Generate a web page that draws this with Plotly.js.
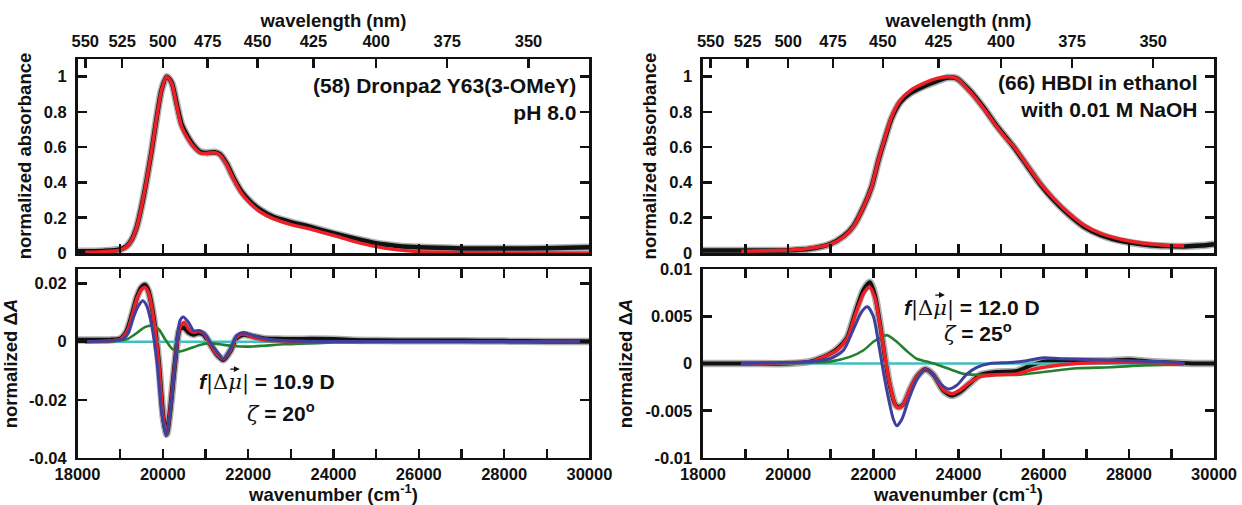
<!DOCTYPE html>
<html><head><meta charset="utf-8">
<script src="https://cdn.plot.ly/plotly-3.0.1.min.js"></script>
<style>html,body{margin:0;padding:0;background:#fff}#chart{width:1242px;height:505px}</style>
</head><body><div id="chart"></div>
<script>
// ---------- tick labels ----------
const wlTicks = [550, 525, 500, 475, 450, 425, 400, 375, 350];
const wnTicks = [18000,19000,20000,21000,22000,23000,24000,25000,26000,27000,28000,29000,30000];
const wnTickText = ['18000','','20000','','22000','','24000','','26000','','28000','','30000'];
const absTicks = [0, 0.2, 0.4, 0.6, 0.8, 1];
const absTickText = ['0','0.2','0.4','0.6','0.8','1'];
const dTicksL = [-0.04, -0.02, 0, 0.02];
const dTickTextL = ['-0.04','-0.02','0','0.02'];
const dTicksR = [-0.01, -0.005, 0, 0.005, 0.01];
const dTickTextR = ['-0.01','-0.005','0','0.005','0.01'];

// ---------- (58) Dronpa2 Y63(3-OMeY): absorbance ----------
const wnTLdat = [18000,18600,19000,19150,19270,19390,19500,19620,19740,19860,19970,20090,20210,20330,20440,20560,20720,20870,21030,21220,21340,21500,21650,21850,22050,22280,22590,22980,23500,24000,24500,25000,25500,26000,27000,28000,29000,30000];
const absTLdat = [0.01,0.012,0.02,0.038,0.076,0.15,0.262,0.414,0.584,0.775,0.926,1.0,0.965,0.84,0.73,0.67,0.61,0.575,0.568,0.572,0.56,0.505,0.43,0.347,0.292,0.246,0.205,0.177,0.145,0.112,0.082,0.055,0.04,0.032,0.026,0.025,0.027,0.032];
const wnTLfit = [18180,18600,19000,19150,19270,19390,19500,19620,19740,19860,19970,20090,20210,20330,20440,20560,20720,20870,21030,21220,21340,21500,21650,21850,22050,22280,22590,22980,23500,24000,24500,25000,25500,26000,26500,27000,28000,30000];
const absTLfit = [0.005,0.008,0.017,0.036,0.074,0.149,0.262,0.414,0.584,0.773,0.924,1.0,0.962,0.83,0.716,0.659,0.603,0.569,0.565,0.569,0.556,0.499,0.423,0.338,0.282,0.234,0.195,0.163,0.133,0.1,0.065,0.036,0.018,0.008,0.004,0.002,0.001,0.001];

// ---------- (58): electroabsorption ----------
const wnBLdat = [18000,18760,19000,19150,19270,19390,19500,19580,19660,19780,19900,20010,20090,20170,20290,20400,20500,20600,20720,20830,20950,21110,21260,21420,21580,21730,21890,22120,22360,22670,23000,23500,24000,24500,25000,26000,27000,28000,29000,30000];
const dBLdat = [0.0006,0.0006,0.001,0.0035,0.0088,0.0152,0.0187,0.0195,0.0175,0.0086,-0.0066,-0.026,-0.0318,-0.0238,-0.0066,0.0045,0.0048,0.0033,0.0025,0.003,0.0026,-0.0008,-0.0042,-0.0062,-0.0032,0.0013,0.0025,0.0018,0.0011,0.0009,0.0008,0.0009,0.0008,0.0005,0.0004,0.0003,0.0003,0.0002,0.0001,0.0001];
const wnBLfit = [18180,18760,19000,19150,19270,19390,19500,19580,19660,19780,19900,20010,20090,20170,20290,20400,20500,20600,20720,20830,20950,21110,21260,21420,21580,21730,21890,22120,22360,22670,23000,24000,30000];
const dBLfit = [0,0.0003,0.0008,0.0032,0.0084,0.0147,0.018,0.0187,0.017,0.0084,-0.0066,-0.026,-0.0318,-0.0238,-0.0066,0.0049,0.0067,0.0044,0.0032,0.0036,0.0029,-0.0008,-0.0042,-0.006,-0.0031,0.0015,0.0027,0.0015,0.0006,0.0003,0.0001,0,0];
const wnBLblue = [18180,18760,19075,19190,19310,19430,19530,19620,19740,19860,19970,20075,20170,20290,20400,20480,20600,20720,20870,20990,21150,21300,21420,21580,21730,21890,22120,22440,22830,23500,30000];
const dBLblue = [0,0.0003,0.001,0.003,0.0084,0.0124,0.0141,0.0124,0.0055,-0.0066,-0.024,-0.0324,-0.025,-0.0066,0.0072,0.0085,0.0067,0.0038,0.0038,0.0026,-0.0011,-0.004,-0.006,-0.0026,0.0021,0.0032,0.0021,0.0009,0.0003,0.0001,0];
const wnBLgreen = [18180,18760,19150,19390,19580,19740,19900,20050,20210,20360,20560,20870,21110,21340,21650,21970,22360,22830,23220,24000,25000,30000];
const dBLgreen = [0,0,0.0008,0.003,0.005,0.0055,0.0044,0.0009,-0.0023,-0.0034,-0.0027,-0.0011,-0.0005,-0.0009,-0.0015,-0.0017,-0.0014,-0.0009,-0.0007,-0.0003,-0.0001,0];
const wnBLcyan = [18180, 30000];
const dBLcyan = [0, 0];

// ---------- (66) HBDI in ethanol with NaOH: absorbance ----------
const wnTRdat = [18000,19000,20040,20510,20980,21300,21530,21770,21960,22120,22280,22430,22630,22860,23180,23490,23760,23960,24270,24590,24900,25300,25610,25920,26230,26550,26940,27330,27720,28110,28500,28900,29300,29700,30000];
const absTRdat = [0.014,0.014,0.016,0.024,0.05,0.095,0.152,0.262,0.376,0.525,0.655,0.765,0.855,0.905,0.945,0.975,0.995,0.99,0.92,0.825,0.72,0.6,0.495,0.39,0.302,0.226,0.15,0.103,0.074,0.056,0.044,0.039,0.037,0.042,0.05];
const wnTRfit = [18900,19500,20040,20510,20980,21300,21530,21770,21960,22120,22280,22430,22630,22860,23180,23490,23760,23960,24270,24590,24900,25100,25300,25610,25920,26230,26550,26940,27330,27720,28110,28500,28900,29300];
const absTRfit = [0.01,0.013,0.017,0.027,0.049,0.092,0.149,0.262,0.376,0.527,0.659,0.773,0.867,0.92,0.962,0.99,1.0,0.99,0.915,0.82,0.716,0.655,0.603,0.499,0.395,0.31,0.234,0.159,0.112,0.083,0.064,0.051,0.044,0.04];

// ---------- (66): electroabsorption ----------
const wnBRdat = [18000,19000,20000,20510,20830,21140,21380,21570,21770,21920,22040,22160,22280,22390,22510,22600,22710,22860,23020,23220,23410,23650,23850,24040,24270,24510,24900,25370,25700,26000,26800,27500,28000,28500,29000,29500,30000];
const dBRdat = [0,0,0,0.0002,0.0007,0.0015,0.0027,0.0053,0.0078,0.0086,0.0072,0.0041,0.0004,-0.0024,-0.0043,-0.0046,-0.0043,-0.0028,-0.0014,-0.0006,-0.0012,-0.0029,-0.0034,-0.003,-0.0021,-0.0012,-0.0009,-0.0008,-0.0002,0.0002,0.0003,0.0003,0.0004,0.0002,0.0001,0,0];
const wnBRfit = [18900,19500,20000,20510,20830,21140,21380,21570,21770,21910,22040,22160,22280,22390,22510,22590,22710,22860,23020,23220,23410,23650,23840,24040,24270,24510,24900,25370,25680,26000,26780,27500,28500,29300];
const dBRfit = [0,0.00003,0.0001,0.00016,0.0007,0.0014,0.0026,0.0051,0.0074,0.0081,0.0069,0.004,0.0005,-0.0023,-0.0043,-0.0047,-0.0043,-0.0027,-0.0014,-0.00065,-0.0012,-0.0028,-0.0032,-0.0028,-0.002,-0.0014,-0.0012,-0.0011,-0.0007,-0.0004,0,0.0001,0.0001,0];
const wnBRblue = [18900,20000,20510,20980,21300,21530,21730,21860,22000,22120,22240,22360,22470,22550,22670,22830,23020,23220,23410,23610,23760,23960,24200,24430,24740,25210,25600,26000,26390,27170,27950,28740,29300];
const dBRblue = [0,0.0001,0.0002,0.0005,0.0014,0.0036,0.0055,0.006,0.005,0.0022,-0.001,-0.0038,-0.0059,-0.0066,-0.0059,-0.0038,-0.0017,-0.0007,-0.0012,-0.0023,-0.0027,-0.0023,-0.0011,-0.0004,0,0.0001,0.0003,0.0006,0.0005,0.0004,0.0003,0.0002,0];
const wnBRgreen = [18900,20000,20510,20980,21450,21770,22000,22200,22320,22550,22790,23020,23260,23490,23800,24120,24430,24900,25370,26000,26780,27560,28350,29300];
const dBRgreen = [0,0.00005,0.0001,0.0002,0.0007,0.0014,0.0023,0.0028,0.003,0.0023,0.0013,0.0005,0.0002,-0.0001,-0.0006,-0.0011,-0.0012,-0.0012,-0.0012,-0.0009,-0.0005,-0.0004,-0.0002,-0.0001];
const wnBRcyan = [18900, 29300];
const dBRcyan = [0, 0];

// ---------- styling ----------
const FONT = 'Liberation Sans, Arial, sans-serif';
const INK = '#111111';
const C_RED = '#ee2026', C_BLUE = '#3f3f9e', C_GREEN = '#23802f', C_CYAN = '#3fbfbf';
const HALO = 'rgba(95,95,95,0.5)';

function ln(x, y, xa, ya, color, width) {
  return {type:'scatter', mode:'lines', x:x, y:y, xaxis:xa, yaxis:ya,
    line:{color:color, width:width, shape:'spline', smoothing:0.7},
    hoverinfo:'skip', showlegend:false};
}

const traces = [
  ln(wnTLdat, absTLdat, 'x', 'y', HALO, 7.5),
  ln(wnTLdat, absTLdat, 'x', 'y', INK, 4.5),
  ln(wnTLfit, absTLfit, 'x5', 'y', C_RED, 3.4),

  ln(wnBLdat, dBLdat, 'x2', 'y2', HALO, 7.5),
  ln(wnBLdat, dBLdat, 'x2', 'y2', INK, 4.5),
  ln(wnBLcyan, dBLcyan, 'x2', 'y2', C_CYAN, 2.6),
  ln(wnBLgreen, dBLgreen, 'x2', 'y2', C_GREEN, 2.6),
  ln(wnBLfit, dBLfit, 'x2', 'y2', C_RED, 3.4),
  ln(wnBLblue, dBLblue, 'x2', 'y2', C_BLUE, 3),

  ln(wnTRdat, absTRdat, 'x3', 'y3', HALO, 7.5),
  ln(wnTRdat, absTRdat, 'x3', 'y3', INK, 4.5),
  ln(wnTRfit, absTRfit, 'x6', 'y3', C_RED, 3.4),

  ln(wnBRdat, dBRdat, 'x4', 'y4', HALO, 7.5),
  ln(wnBRdat, dBRdat, 'x4', 'y4', INK, 4),
  ln(wnBRcyan, dBRcyan, 'x4', 'y4', C_CYAN, 2.6),
  ln(wnBRgreen, dBRgreen, 'x4', 'y4', C_GREEN, 2.6),
  ln(wnBRfit, dBRfit, 'x4', 'y4', C_RED, 3.4),
  ln(wnBRblue, dBRblue, 'x4', 'y4', C_BLUE, 3)
];

const tickFont = {family:FONT, size:16.5, color:INK, weight:'bold'};
const titleFont = {family:FONT, size:18.5, color:INK, weight:'bold'};
function ax(extra) {
  return Object.assign({showline:true, linewidth:2.5, linecolor:INK, ticks:'inside', ticklen:9,
    tickwidth:2.5, tickcolor:INK, showgrid:false, zeroline:false, fixedrange:true,
    tickfont:tickFont}, extra);
}
const XL = [0.0624, 0.4746], XR = [0.566, 0.9775];
const YT = [0.499, 0.883], YB = [0.0931, 0.4673];
const XR_RANGE = [18000, 30000];
const wlPos = wlTicks.map(function(l){ return 1e7 / l; });

const annFont = {family:FONT, size:21, color:INK, weight:'bold'};
const mathFont = {family:FONT, size:21, color:INK, weight:'normal'};
const fText = function(v){ return '<b><i>f</i></b><span style="font-family:\'DejaVu Serif\'">|Δ<i>μ</i>|</span><b> = ' + v + ' D</b>'; };
const zText = function(v){ return '<span style="font-family:\'DejaVu Serif\'"><i>ζ</i></span><b> = ' + v + '<sup>o</sup></b>'; };
function vecArrow(xr, yr, x, y) {
  return {xref:xr, yref:yr, x:x, y:y, xshift:43, yshift:13, text:'', showarrow:true,
    ax:-11, ay:0, axref:'pixel', ayref:'pixel', arrowhead:2, arrowsize:0.9, arrowwidth:1.3, arrowcolor:INK, standoff:0, startstandoff:0};
}

const layout = {
  width:1242, height:505, margin:{l:0, r:0, t:0, b:0},
  paper_bgcolor:'#fff', plot_bgcolor:'#fff',
  font:{family:FONT, size:16.5, color:INK, weight:'bold'},
  showlegend:false,
  xaxis: ax({domain:XL, anchor:'y', range:XR_RANGE, tickvals:wnTicks, showticklabels:false}),
  xaxis5: ax({overlaying:'x', side:'top', anchor:'y', range:XR_RANGE, tickvals:wlPos, ticktext:wlTicks.map(String),
    ticklabelstandoff:3, title:{text:'wavelength (nm)', font:titleFont, standoff:0}}),
  yaxis: ax({domain:YT, anchor:'x', range:[0, 1.1], tickvals:absTicks, ticktext:absTickText, mirror:'ticks',
    ticklabelstandoff:5, title:{text:'normalized absorbance', font:titleFont, standoff:8}}),
  xaxis2: ax({domain:XL, anchor:'y2', range:XR_RANGE, tickvals:wnTicks, ticktext:wnTickText, mirror:'ticks',
    title:{text:'wavenumber (cm<sup>-1</sup>)', font:titleFont, standoff:0}}),
  yaxis2: ax({domain:YB, anchor:'x2', range:[-0.04, 0.025], tickvals:dTicksL, ticktext:dTickTextL, mirror:'ticks',
    ticklabelstandoff:5, title:{text:'normalized Δ<i>A</i>', font:titleFont, standoff:8}}),

  xaxis3: ax({domain:XR, anchor:'y3', range:XR_RANGE, tickvals:wnTicks, showticklabels:false}),
  xaxis6: ax({overlaying:'x3', side:'top', anchor:'y3', range:XR_RANGE, tickvals:wlPos, ticktext:wlTicks.map(String),
    ticklabelstandoff:3, title:{text:'wavelength (nm)', font:titleFont, standoff:0}}),
  yaxis3: ax({domain:YT, anchor:'x3', range:[0, 1.1], tickvals:absTicks, ticktext:absTickText, mirror:'ticks',
    ticklabelstandoff:5, title:{text:'normalized absorbance', font:titleFont, standoff:8}}),
  xaxis4: ax({domain:XR, anchor:'y4', range:XR_RANGE, tickvals:wnTicks, ticktext:wnTickText, mirror:'ticks',
    title:{text:'wavenumber (cm<sup>-1</sup>)', font:titleFont, standoff:0}}),
  yaxis4: ax({domain:YB, anchor:'x4', range:[-0.01, 0.01], tickvals:dTicksR, ticktext:dTickTextR, mirror:'ticks',
    ticklabelstandoff:5, title:{text:'normalized Δ<i>A</i>', font:titleFont, standoff:8}}),

  annotations: [
    {xref:'x', yref:'y', x:30000, y:0.876, xanchor:'right', yanchor:'middle', xshift:-11, align:'right', showarrow:false,
     text:'(58) Dronpa2 Y63(3-OMeY)<br>pH 8.0', font:annFont},
    {xref:'x3', yref:'y3', x:30000, y:0.891, xanchor:'right', yanchor:'middle', xshift:-14, align:'right', showarrow:false,
     text:'(66) HBDI in ethanol<br>with 0.01 M NaOH', font:annFont},

    {xref:'x2', yref:'y2', x:20795, y:-0.0139, xanchor:'left', yanchor:'middle', showarrow:false,
     text:fText('10.9'), font:mathFont},
    vecArrow('x2', 'y2', 20795, -0.0139),
    {xref:'x2', yref:'y2', x:21927, y:-0.0244, xanchor:'left', yanchor:'middle', showarrow:false,
     text:zText('20'), font:mathFont},

    {xref:'x4', yref:'y4', x:22669, y:0.00587, xanchor:'left', yanchor:'middle', showarrow:false,
     text:fText('12.0'), font:mathFont},
    vecArrow('x4', 'y4', 22669, 0.00587),
    {xref:'x4', yref:'y4', x:23609, y:0.00323, xanchor:'left', yanchor:'middle', showarrow:false,
     text:zText('25'), font:mathFont}
  ]
};

Plotly.newPlot('chart', traces, layout, {staticPlot:true, displayModeBar:false});
</script></body></html>
